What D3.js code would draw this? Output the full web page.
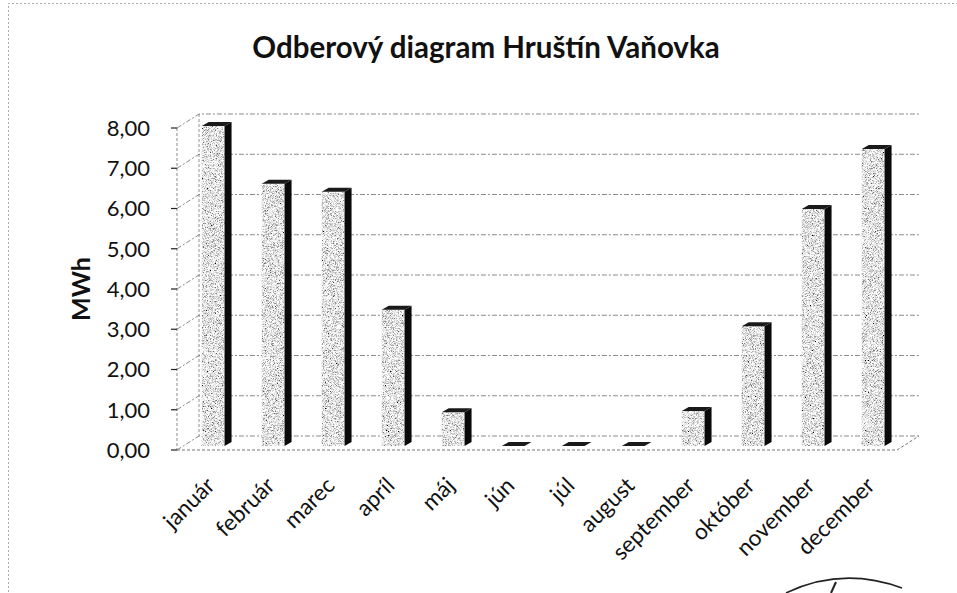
<!DOCTYPE html>
<html>
<head>
<meta charset="utf-8">
<script src="https://cdn.jsdelivr.net/npm/d3@7"></script>
<style>
  body { margin: 0; background: #fff; }
  text { font-family: Lato, "Open Sans", sans-serif; fill: #111; }
</style>
</head>
<body>
<div id="chart"></div>
<script>
// chart data
let months = ["január", "február", "marec", "apríl", "máj", "jún", "júl", "august", "september", "október", "november", "december"];
let values = [7.95, 6.52, 6.32, 3.39, 0.84, 0, 0, 0, 0.87, 2.98, 5.89, 7.38];
let yTicks = [0, 1, 2, 3, 4, 5, 6, 7, 8];
let tickLabels = ["0,00", "1,00", "2,00", "3,00", "4,00", "5,00", "6,00", "7,00", "8,00"];

let width = 957;
let height = 593;

// depth offset of the back wall (fake 3d)
let depth = {dx: 22, dy: -14};
// bars sit a bit behind the front edge
let barFrac = 0.28;
let barSide = {dx: 7, dy: -4};

let svg = d3.select("#chart").append("svg").attr("width", width).attr("height", height);

// grain filter for the scanned look of the bar faces
let defs = svg.append("defs");
let grain = defs.append("filter").attr("id", "grain").attr("x", 0).attr("y", 0).attr("width", "100%").attr("height", "100%");
grain.append("feTurbulence").attr("type", "fractalNoise").attr("baseFrequency", 1.4).attr("numOctaves", 2).attr("seed", 7).attr("result", "noise");
grain.append("feColorMatrix").attr("in", "noise").attr("type", "matrix")
    .attr("values", "2.4 0 0 0 -0.42  2.4 0 0 0 -0.42  2.4 0 0 0 -0.42  0 0 0 0 1").attr("result", "gray");
grain.append("feComposite").attr("in", "gray").attr("in2", "SourceGraphic").attr("operator", "in");

// outer dotted frame (only top and left show in the scan)
svg.append("path").attr("d", "M8.5,600 L8.5,3.5 L957,3.5")
    .attr("fill", "none").attr("stroke", "#aaa").attr("stroke-dasharray", "2,2");

// scales
let xScale = d3.scaleBand().domain(months).range([177, 897]).paddingInner(0.62).paddingOuter(0.31);
let yScale = d3.scaleLinear().domain([0, 8]).range([450, 128]);

let grid = svg.append("g");
let line = d3.line();

// back wall grid lines and the diagonals on the side wall
yTicks.forEach((t) => {
    let y = yScale(t);
    grid.append("path")
        .attr("d", line([[177, y], [177 + depth.dx, y + depth.dy], [897 + depth.dx, y + depth.dy]]))
        .attr("fill", "none").attr("stroke", "#444").attr("stroke-width", 0.9).attr("stroke-dasharray", "5,2,2,2").attr("opacity", 0.7);
});

// floor outline
let y0 = yScale(0);
grid.append("path")
    .attr("d", line([[177, y0], [897, y0], [897 + depth.dx, y0 + depth.dy]]))
    .attr("fill", "none").attr("stroke", "#666").attr("stroke-width", 0.9).attr("stroke-dasharray", "3,2");
grid.append("path")
    .attr("d", line([[177 + depth.dx, yScale(8) + depth.dy], [177 + depth.dx, y0 + depth.dy]]))
    .attr("fill", "none").attr("stroke", "#777").attr("stroke-width", 0.8).attr("stroke-dasharray", "3,2");

// y axis: tick marks and labels
let yAxis = svg.append("g");
yAxis.append("line").attr("x1", 177).attr("x2", 177).attr("y1", yScale(8)).attr("y2", y0)
    .attr("stroke", "#888").attr("stroke-dasharray", "3,2");
yTicks.forEach((t, i) => {
    yAxis.append("line").attr("x1", 171).attr("x2", 177).attr("y1", yScale(t)).attr("y2", yScale(t))
        .attr("stroke", "#222").attr("stroke-width", 1.2);
    yAxis.append("text").attr("x", 150).attr("y", yScale(t)).attr("dy", "0.36em")
        .attr("text-anchor", "end").attr("font-size", "22px").text(tickLabels[i]);
});

// axis title
svg.append("text").attr("transform", "translate(90, 289) rotate(-90)")
    .attr("text-anchor", "middle").attr("font-size", "25px").attr("font-weight", "bold").text("MWh");

// chart title
svg.append("text").attr("x", 486).attr("y", 58).attr("text-anchor", "middle")
    .attr("font-size", "29.5px").attr("font-weight", "bold").text("Odberový diagram Hruštín Vaňovka");

// bars
let bars = svg.append("g");
months.forEach((m, i) => {
    let v = values[i];
    let x0 = xScale(m) + barFrac * depth.dx;
    let w = xScale.bandwidth();
    let yb = yScale(0) + barFrac * depth.dy;
    let yt = yScale(v) + barFrac * depth.dy;
    let g = bars.append("g");
    // front face
    if (v > 0) {
        g.append("rect").attr("x", x0).attr("y", yt).attr("width", w).attr("height", yb - yt)
            .attr("fill", "#ccc").attr("filter", "url(#grain)");
    }
    // right side face
    g.append("path")
        .attr("d", line([[x0 + w, yt], [x0 + w + barSide.dx, yt + barSide.dy], [x0 + w + barSide.dx, yb + barSide.dy], [x0 + w, yb]]) + "Z")
        .attr("fill", "#0a0a0a");
    // top face
    g.append("path")
        .attr("d", line([[x0, yt], [x0 + barSide.dx, yt + barSide.dy], [x0 + w + barSide.dx, yt + barSide.dy], [x0 + w, yt]]) + "Z")
        .attr("fill", "#1a1a1a");
});

// category labels, rotated
let xLabels = svg.append("g");
months.forEach((m) => {
    let cx = xScale(m) + xScale.bandwidth() / 2 + 9;
    xLabels.append("text").attr("transform", `translate(${cx}, 487) rotate(-45)`)
        .attr("text-anchor", "end").attr("font-size", "22.5px").text(m);
});

// part of a stamp in the bottom right corner
svg.append("path").attr("d", "M786,593 Q842,566 902,588")
    .attr("fill", "none").attr("stroke", "#222").attr("stroke-width", 1.6);
svg.append("path").attr("d", "M831,593 L836,582")
    .attr("fill", "none").attr("stroke", "#222").attr("stroke-width", 2);
</script>
</body>
</html>
